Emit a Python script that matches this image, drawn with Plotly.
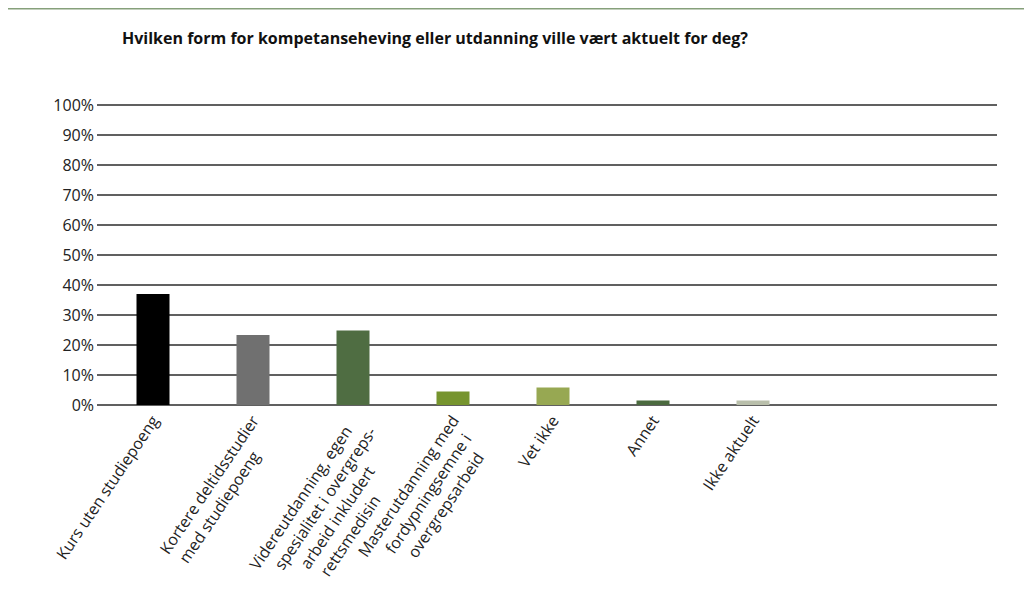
import plotly.graph_objects as go

categories = [
    "Kurs uten studiepoeng",
    "Kortere deltidsstudier<br>med studiepoeng",
    "Videreutdanning, egen<br>spesialitet i overgreps-<br>arbeid inkludert<br>rettsmedisin",
    "Masterutdanning med<br>fordypningsemne i<br>overgrepsarbeid",
    "Vet ikke",
    "Annet",
    "Ikke aktuelt",
]
values = [0.37, 0.233, 0.248, 0.045, 0.058, 0.015, 0.015]
colors = ["#000000", "#707070", "#4f6d42", "#76942e", "#97a852", "#4b6a3f", "#b9bfab"]
tick_vals = [i / 10 for i in range(11)]
title_text = "Hvilken form for kompetanseheving eller utdanning ville vært aktuelt for deg?"


def centered(label):
    # plotly end-anchors each line of an angled tick label; pad shorter lines
    # with no-break spaces on the right so the lines appear centred
    lines = label.split("<br>")
    longest = max(len(s) for s in lines)
    return "<br>".join(s + "\u00a0" * round((longest - len(s)) * 1.05) for s in lines)


tick_text = [centered(c) for c in categories]

fig = go.Figure(go.Bar(
    x=categories, y=values, marker=dict(color=colors, line=dict(width=0)),
    width=0.33, hoverinfo="skip",
))

fig.update_layout(
    width=1032, height=601,
    margin=dict(l=89, r=43, t=94, b=204),
    paper_bgcolor="white", plot_bgcolor="white",
    showlegend=False,
    font=dict(family="Open Sans, sans-serif", size=16, color="#222"),
    title=dict(text="<b>" + title_text + "</b>", x=114 / 1032, xanchor="left",
               y=1 - 30 / 601, yanchor="middle", font=dict(size=16, color="#111")),
    xaxis=dict(type="category", categoryorder="array", categoryarray=categories,
               tickvals=categories, ticktext=tick_text,
               range=[-0.56, 8.44], showgrid=False, showline=False, ticks="",
               tickangle=-56, tickfont=dict(size=16, color="#222"), automargin=False,
               ticklabelstandoff=2),
    yaxis=dict(range=[0, 1.01], tickvals=tick_vals, tickformat=".0%",
               showgrid=True, gridcolor="#606060", gridwidth=1.6,
               zeroline=True, zerolinecolor="#606060", zerolinewidth=1.6,
               showline=False, ticks="", tickfont=dict(size=16, color="#222"),
               automargin=False, ticklabelstandoff=2),
    shapes=[dict(type="line", xref="paper", yref="paper",
                 x0=(0 - 89) / 900, x1=(1032 - 89) / 900,
                 y0=397 / 303, y1=397 / 303,
                 line=dict(color="#86a07a", width=3))],
)

fig.write_html("out.html")
